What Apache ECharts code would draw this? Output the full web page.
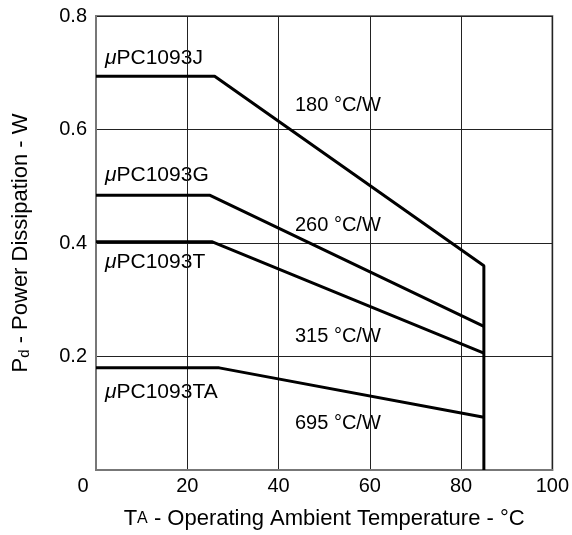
<!DOCTYPE html>
<html>
<head>
<meta charset="utf-8">
<script src="https://cdn.jsdelivr.net/npm/echarts@6/dist/echarts.min.js"></script>
<style>
  html, body { margin: 0; padding: 0; background: #fff; }
  #chart { width: 572px; height: 535px; }
</style>
</head>
<body>
<div id="chart"></div>
<script>
// derating curves: [temperature °C, power W]
const curveJ = [[0, 0.694], [26, 0.694], [85, 0.36], [85, 0]]
const curveG = [[0, 0.484], [25, 0.484], [85, 0.253]]
const curveT = [[0, 0.402], [25.5, 0.402], [85, 0.206]]
const curveTA = [[0, 0.18], [27, 0.18], [85, 0.093]]

const partNames = ['J', 'G', 'T', 'TA']
const resistances = ['180 °C/W', '260 °C/W', '315 °C/W', '695 °C/W']
const xTicks = [0, 20, 40, 60, 80, 100]
const yTicks = [0, 0.2, 0.4, 0.6, 0.8]

const FONT = 'Liberation Sans, Arial, sans-serif'

const chart = echarts.init(document.getElementById('chart'))

// label positions in pixels
const partPos = [[105, 60], [105, 177], [105, 264], [105, 394]]
const resPos = [[295, 106], [295, 226], [295, 337], [295, 424]]

const graphics = []
partNames.forEach((p, i) => {
  graphics.push({
    type: 'text',
    left: partPos[i][0],
    top: partPos[i][1] - 12,
    style: {
      text: '{mu|μ}{t|PC1093' + p + '}',
      rich: {
        mu: { fontFamily: FONT, fontSize: 21, fontStyle: 'italic', fill: '#000' },
        t: { fontFamily: FONT, fontSize: 21, fill: '#000' },
      },
    },
  })
})
resistances.forEach((r, i) => {
  graphics.push({
    type: 'text',
    left: resPos[i][0],
    top: resPos[i][1] - 11,
    style: { text: r, fontFamily: FONT, fontSize: 20, fill: '#000' },
  })
})

function lineSeries(data) {
  return {
    type: 'line',
    data: data,
    showSymbol: false,
    silent: true,
    animation: false,
    lineStyle: { color: '#000', width: 3 },
  }
}

chart.setOption({
  backgroundColor: '#fff',
  animation: false,
  grid: {
    left: 96, right: 18, top: 16, bottom: 61,
    show: true, borderColor: '#777', borderWidth: 2,
  },
  xAxis: {
    type: 'value',
    min: xTicks[0],
    max: xTicks[xTicks.length - 1],
    interval: 20,
    name: '{b|T}{s|A}{b| - Operating Ambient Temperature - °C}',
    nameLocation: 'middle',
    nameGap: 38,
    nameTextStyle: {
      rich: {
        b: { fontFamily: FONT, fontSize: 22, color: '#000' },
        s: { fontFamily: FONT, fontSize: 16, color: '#000' },
      },
    },
    axisLine: { lineStyle: { color: '#777', width: 2 } },
    axisTick: { show: false },
    axisLabel: {
      margin: 6,
      formatter: v => (v === 0 ? '{o|0}' : String(v)),
      fontFamily: FONT, fontSize: 20, color: '#000',
      rich: { o: { fontFamily: FONT, fontSize: 20, color: '#000', padding: [0, 26, 0, 0] } },
    },
    splitLine: { lineStyle: { color: '#222', width: 1 } },
  },
  yAxis: {
    type: 'value',
    min: yTicks[0],
    max: yTicks[yTicks.length - 1],
    interval: 0.2,
    name: '{b|P}{s|d}{b| - Power Dissipation - W}',
    nameLocation: 'middle',
    nameGap: 64,
    nameTextStyle: {
      rich: {
        b: { fontFamily: FONT, fontSize: 22, color: '#000' },
        s: { fontFamily: FONT, fontSize: 15, color: '#000', verticalAlign: 'bottom', padding: [7, 0, 0, 0] },
      },
    },
    axisLine: { show: true, lineStyle: { color: '#777', width: 2 } },
    axisTick: { show: false },
    axisLabel: {
      margin: 9,
      showMinLabel: false,
      formatter: v => v.toFixed(1),
      fontFamily: FONT, fontSize: 20, color: '#000',
    },
    splitLine: { lineStyle: { color: '#222', width: 1 } },
  },
  series: [curveJ, curveG, curveT, curveTA].map(lineSeries),
  graphic: graphics,
})
</script>
</body>
</html>
